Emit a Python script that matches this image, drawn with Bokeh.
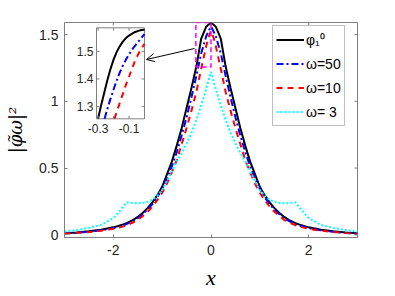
from bokeh.plotting import figure
from bokeh.models import (Range1d, FixedTicker, Legend, LegendItem, Arrow, OpenHead)
from bokeh.embed import file_html
from bokeh.resources import INLINE
from bokeh.core.properties import value

# ---------------- data ----------------
x = [-3.0, -2.75, -2.5, -2.25, -2.0, -1.9, -1.8, -1.73, -1.6, -1.5, -1.4, -1.3, -1.2,
     -1.1, -1.0, -0.9, -0.8, -0.7, -0.6, -0.5, -0.4, -0.3, -0.2, -0.1, -0.05, 0.0,
     0.05, 0.1, 0.2, 0.3, 0.4, 0.5, 0.6, 0.7, 0.8, 0.9, 1.0, 1.1, 1.2, 1.3, 1.4, 1.5,
     1.6, 1.73, 1.8, 1.9, 2.0, 2.25, 2.5, 2.75, 3.0]

phi10 = [0.012, 0.017, 0.026, 0.038, 0.056, 0.066, 0.078, 0.088, 0.11, 0.134, 0.163, 0.200,
         0.243, 0.295, 0.36, 0.455, 0.55, 0.67, 0.80, 0.95, 1.10, 1.26, 1.47, 1.557, 1.575,
         1.585,
         1.575, 1.557, 1.47, 1.26, 1.10, 0.95, 0.80, 0.67, 0.55, 0.455, 0.36, 0.295, 0.243,
         0.200, 0.163, 0.134, 0.11, 0.088, 0.078, 0.066, 0.056, 0.038, 0.026, 0.017, 0.012]

w50 = [0.01, 0.015, 0.023, 0.034, 0.05, 0.06, 0.07, 0.08, 0.102, 0.125, 0.154, 0.188,
       0.23, 0.282, 0.345, 0.425, 0.515, 0.62, 0.745, 0.88, 1.03, 1.19, 1.36, 1.485, 1.525,
       1.56,
       1.525, 1.485, 1.36, 1.19, 1.03, 0.88, 0.745, 0.62, 0.515, 0.425, 0.345, 0.282, 0.23,
       0.188, 0.154, 0.125, 0.102, 0.08, 0.07, 0.06, 0.05, 0.034, 0.023, 0.015, 0.01]

w10 = [0.01, 0.014, 0.021, 0.031, 0.046, 0.054, 0.063, 0.072, 0.092, 0.112, 0.14, 0.172,
       0.212, 0.26, 0.315, 0.385, 0.47, 0.56, 0.68, 0.80, 0.93, 1.07, 1.245, 1.41, 1.48,
       1.527,
       1.48, 1.41, 1.245, 1.07, 0.93, 0.80, 0.68, 0.56, 0.47, 0.385, 0.315, 0.26, 0.212,
       0.172, 0.14, 0.112, 0.092, 0.072, 0.063, 0.054, 0.046, 0.031, 0.021, 0.014, 0.01]

w3 = [0.024, 0.036, 0.052, 0.075, 0.125, 0.165, 0.21, 0.243, 0.238, 0.236, 0.239, 0.246,
      0.262, 0.293, 0.335, 0.405, 0.475, 0.55, 0.615, 0.685, 0.765, 0.86, 0.97, 1.09, 1.155,
      1.22,
      1.155, 1.09, 0.97, 0.86, 0.765, 0.685, 0.615, 0.55, 0.475, 0.405, 0.335, 0.293, 0.262,
      0.246, 0.239, 0.236, 0.238, 0.243, 0.21, 0.165, 0.125, 0.075, 0.052, 0.036, 0.024]

# inset (zoom of the peak)
phi10_in_x = [-0.30, -0.28, -0.26, -0.24, -0.22, -0.20, -0.18, -0.16, -0.14, -0.12, -0.10,
              -0.08, -0.06, -0.04, -0.02, 0.0]
phi10_in = [1.256, 1.305, 1.35, 1.395, 1.435, 1.47, 1.497, 1.518, 1.535, 1.548, 1.557,
            1.564, 1.570, 1.574, 1.577, 1.578]
w50_in_x = [-0.258, -0.24, -0.22, -0.20, -0.18, -0.16, -0.14, -0.12, -0.10, -0.08, -0.06,
            -0.04, -0.02, 0.0]
w50_in = [1.256, 1.291, 1.328, 1.362, 1.394, 1.423, 1.448, 1.47, 1.489, 1.506, 1.521,
          1.535, 1.549, 1.562]
w10_in_x = [-0.194, -0.18, -0.16, -0.14, -0.12, -0.10, -0.08, -0.06, -0.04, -0.02, 0.0]
w10_in = [1.256, 1.28, 1.313, 1.346, 1.379, 1.408, 1.438, 1.467, 1.49, 1.51, 1.527]

labels = ["φ₁⁰", "ω=50", "ω=10", "ω= 3"]

x_ticks = [-2, 0, 2]
x_tick_labels = ["-2", "0", "2"]
y_ticks = [0, 0.5, 1, 1.5]
y_tick_labels = ["0", "0.5", "1", "1.5"]

in_x_ticks = [-0.3, -0.2, -0.1]
in_x_label_ticks = [-0.3, -0.1]
in_x_tick_labels = ["-0.3", "-0.1"]
in_y_ticks = [1.3, 1.4, 1.5]
in_y_tick_labels = ["1.3", "1.4", "1.5"]

# ---------------- layout constants ----------------
X_RANGE = (-3, 3)
Y_RANGE = (-0.02, 1.59)
IN_X = (-0.31, 0.0)
IN_Y = (1.256, 1.585)
W, H = 379, 294
ML, MR, MT = 64, 22, 22
FW, FH = W - ML - MR, 215
MB = H - MT - FH

def page_to_data(px, py):
    xd = X_RANGE[0] + (px - ML) / FW * (X_RANGE[1] - X_RANGE[0])
    yd = Y_RANGE[1] - (py - MT) / FH * (Y_RANGE[1] - Y_RANGE[0])
    return xd, yd

AX = "#808080"
TXT = "#262626"
FONT = "Liberation Sans"
TICK_PX = 3

p = figure(width=W, height=H, x_range=Range1d(*X_RANGE), y_range=Range1d(*Y_RANGE),
           output_backend="svg", toolbar_location=None,
           min_border_left=ML, min_border_right=MR, min_border_top=MT, min_border_bottom=MB,
           background_fill_color="white", border_fill_color="white")
p.grid.visible = False
p.outline_line_color = AX

for ax, ticks, labs in ((p.xaxis[0], x_ticks, x_tick_labels), (p.yaxis[0], y_ticks, y_tick_labels)):
    ax.ticker = FixedTicker(ticks=ticks)
    ax.axis_line_color = AX
    ax.major_tick_line_color = AX
    ax.major_tick_in = TICK_PX
    ax.major_tick_out = 0
    ax.minor_tick_line_color = None
    ax.major_label_text_color = TXT
    ax.major_label_text_font = FONT
    ax.major_label_text_font_size = "14px"
    ax.major_label_overrides = {t: l for t, l in zip(ticks, labs)}

p.xaxis[0].major_label_standoff = 7
p.yaxis[0].major_label_standoff = 6
p.xaxis[0].axis_label = "x"
p.xaxis[0].axis_label_text_font = "Liberation Serif"
p.xaxis[0].axis_label_text_font_style = "italic"
p.xaxis[0].axis_label_text_font_size = "22px"
p.xaxis[0].axis_label_text_color = "black"
p.xaxis[0].axis_label_standoff = 7

p.yaxis[0].axis_label = "|φ̃ω|²"
p.yaxis[0].axis_label_text_font = "DejaVu Serif"
p.yaxis[0].axis_label_text_font_style = "italic"
p.yaxis[0].axis_label_text_font_size = "18px"
p.yaxis[0].axis_label_text_color = "black"
p.yaxis[0].axis_label_standoff = 10

# box ticks on the top and right edges
dx = TICK_PX / FW * (X_RANGE[1] - X_RANGE[0])
dy = TICK_PX / FH * (Y_RANGE[1] - Y_RANGE[0])
p.segment(x0=[X_RANGE[1]] * len(y_ticks), x1=[X_RANGE[1] - dx] * len(y_ticks),
          y0=y_ticks, y1=y_ticks, line_color=AX, line_width=1)
p.segment(x0=x_ticks, x1=x_ticks, y0=[Y_RANGE[1]] * len(x_ticks),
          y1=[Y_RANGE[1] - dy] * len(x_ticks), line_color=AX, line_width=1)

# ---------------- main curves ----------------
r0 = p.line(x, phi10, line_color="black", line_width=2)
r1 = p.line(x, w50, line_color="blue", line_width=2, line_dash="7 3 2 3")
r2 = p.line(x, w10, line_color="red", line_width=2, line_dash="6 5")
r3 = p.line(x, w3, line_color="cyan", line_width=2, line_dash="2 2")

# zoom box
p.quad(left=IN_X[0], right=IN_X[1], bottom=IN_Y[0], top=Y_RANGE[1], fill_alpha=0,
       line_color="magenta", line_width=1.5, line_dash="5 3")

# ---------------- inset ----------------
ix0, iy1 = page_to_data(96, 27.3)
ix1, iy0 = page_to_data(144, 118.3)
sub = p.subplot(x_source=Range1d(*IN_X), y_source=Range1d(*IN_Y),
                x_target=Range1d(ix0, ix1), y_target=Range1d(iy0, iy1))
sub.quad(left=IN_X[0], right=IN_X[1], bottom=IN_Y[0], top=IN_Y[1],
         fill_color="white", line_color=AX, line_width=1)
sub.line(phi10_in_x, phi10_in, line_color="black", line_width=2)
sub.line(w50_in_x, w50_in, line_color="blue", line_width=2, line_dash="7 3 2 3")
sub.line(w10_in_x, w10_in, line_color="red", line_width=2, line_dash="6 5")

tlx = 3.0 / 48 * (IN_X[1] - IN_X[0])
tly = 3.0 / 91 * (IN_Y[1] - IN_Y[0])
nx, ny = len(in_x_ticks), len(in_y_ticks)
sub.segment(x0=in_x_ticks, x1=in_x_ticks, y0=[IN_Y[0]] * nx, y1=[IN_Y[0] + tly] * nx,
            line_color=AX, line_width=1)
sub.segment(x0=in_x_ticks, x1=in_x_ticks, y0=[IN_Y[1]] * nx, y1=[IN_Y[1] - tly] * nx,
            line_color=AX, line_width=1)
sub.segment(x0=[IN_X[0]] * ny, x1=[IN_X[0] + tlx] * ny, y0=in_y_ticks, y1=in_y_ticks,
            line_color=AX, line_width=1)
sub.segment(x0=[IN_X[1]] * ny, x1=[IN_X[1] - tlx] * ny, y0=in_y_ticks, y1=in_y_ticks,
            line_color=AX, line_width=1)
sub.text(x=in_x_label_ticks, y=[IN_Y[0]] * len(in_x_label_ticks), text=in_x_tick_labels,
         y_offset=5, text_align="center", text_baseline="top", text_color=TXT,
         text_font=value(FONT), text_font_size=value("12px"))
sub.text(x=[IN_X[0]] * ny, y=in_y_ticks, text=in_y_tick_labels, x_offset=-3,
         text_align="right", text_baseline="middle", text_color=TXT,
         text_font=value(FONT), text_font_size=value("12px"))

# arrow to inset
ax0, ay0 = page_to_data(194, 48)
ax1, ay1 = page_to_data(146, 59)
p.add_layout(Arrow(end=OpenHead(size=8, line_width=1, line_color="black"),
                   x_start=ax0, y_start=ay0, x_end=ax1, y_end=ay1,
                   line_color="black", line_width=1))

# ---------------- legend ----------------
legend = Legend(items=[LegendItem(label=labels[0], renderers=[r0]),
                       LegendItem(label=labels[1], renderers=[r1]),
                       LegendItem(label=labels[2], renderers=[r2]),
                       LegendItem(label=labels[3], renderers=[r3])],
                location=(208, 111), orientation="vertical",
                border_line_color=AX, border_line_width=1, background_fill_color="white",
                background_fill_alpha=1, label_text_font=FONT, label_text_font_size="14px",
                label_text_color="black", glyph_width=28, glyph_height=21, label_height=21,
                spacing=3, padding=3, margin=0, label_standoff=2)
p.add_layout(legend)

open("out.html", "w").write(file_html(p, INLINE))
